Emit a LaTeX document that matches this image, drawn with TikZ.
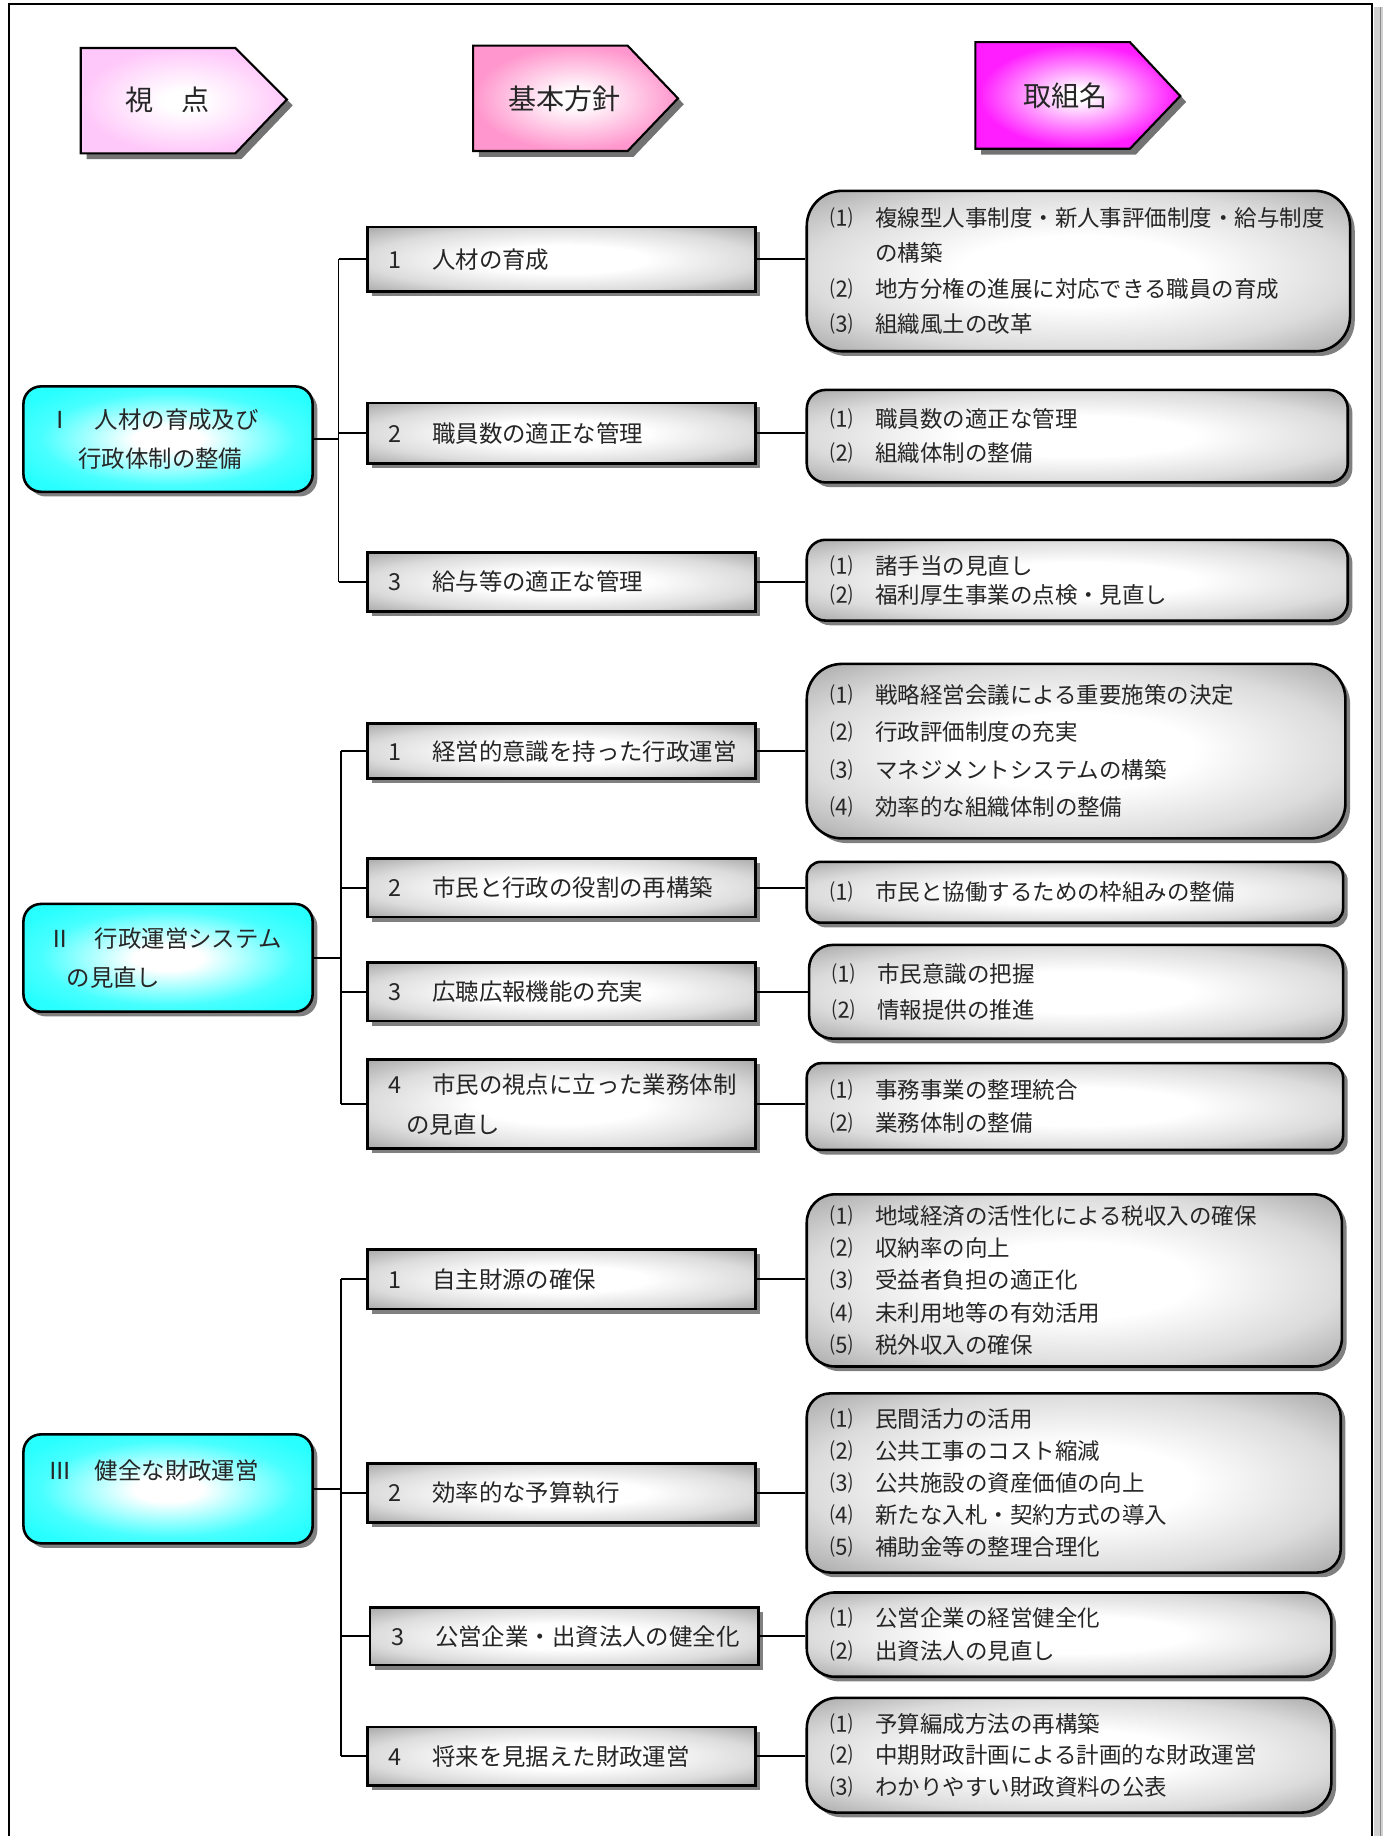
\documentclass[tikz,border=0pt]{standalone}
\usepackage{fontspec}
\newfontfamily\jpfont{Noto Sans CJK JP}
\usetikzlibrary{shadows}

\definecolor{viewpink}{RGB}{255,200,250}
\definecolor{policypink}{RGB}{255,150,205}
\definecolor{namemag}{RGB}{255,30,255}
\definecolor{glowcyan}{RGB}{40,255,255}

\pgfdeclareradialshading{greyglow}{\pgfpoint{0bp}{0bp}}{color(0bp)=(white); color(11bp)=(white); color(25bp)=(black!14); color(35bp)=(black!33); color(50bp)=(black!33)}
\pgfdeclareradialshading{cyanglow}{\pgfpoint{0bp}{0bp}}{color(0bp)=(white); color(6bp)=(white); color(22bp)=(glowcyan!85); color(30bp)=(glowcyan); color(50bp)=(glowcyan)}
\pgfdeclareradialshading{viewglow}{\pgfpoint{0bp}{0bp}}{color(0bp)=(white); color(5bp)=(white); color(25bp)=(viewpink); color(50bp)=(viewpink)}
\pgfdeclareradialshading{policyglow}{\pgfpoint{0bp}{0bp}}{color(0bp)=(white); color(4bp)=(white); color(25bp)=(policypink); color(50bp)=(policypink)}
\pgfdeclareradialshading{nameglow}{\pgfpoint{0bp}{0bp}}{color(0bp)=(white); color(3bp)=(white); color(24bp)=(namemag); color(50bp)=(namemag)}

\begin{document}
\begin{tikzpicture}[x=0.5pt, y=-0.5pt,
    link/.style={line width=0.8pt},
    boxshadow/.style={drop shadow={shadow xshift=2pt, shadow yshift=-2pt, fill=black!50, opacity=1}},
    hdr/.style={draw, line width=0.9pt, shade, drop shadow={shadow xshift=2.5pt, shadow yshift=-2.5pt, fill=black!55, opacity=1}},
    htext/.style={font=\jpfont\fontsize{12}{14}\selectfont, text=black!85},
    sight/.style={draw, line width=1.1pt, shade, shading=cyanglow, rounded corners=7.5pt, boxshadow,
        minimum width=123.5pt, text width=102.5pt, inner xsep=10.5pt, align=left,
        font=\jpfont\fontsize{10}{16.5}\selectfont, text=black!85},
    policy/.style={draw, line width=1.1pt, shade, shading=greyglow, boxshadow,
        minimum width=165.5pt, text width=147.5pt, inner xsep=9pt, align=left,
        font=\jpfont\fontsize{10}{17}\selectfont, text=black!85},
    action/.style={draw, line width=1.1pt, shade, shading=greyglow, boxshadow,
        inner xsep=10pt, align=left, font=\jpfont\fontsize{9.6}{#1}\selectfont, text=black!85},
]
\useasboundingbox (0,0) rectangle (1181,1568);

% page frame
\fill[black!18] (1173,6) rectangle (1181,1570);
\draw[black!45, line width=0.3pt] (1179,6) -- (1179,1570);
\draw[line width=0.9pt] (7.5,1570) -- (7.5,3.5) -- (1172,3.5) -- (1172,1570);

% column headers
\path[hdr, shading=viewglow] (69,41) -- (201,41) -- (245,85) -- (201,131) -- (69,131) -- cycle;
\path[hdr, shading=policyglow] (404,39) -- (536,39) -- (579,84) -- (536,129) -- (404,129) -- cycle;
\path[hdr, shading=nameglow] (833,36) -- (965,36) -- (1008,82) -- (965,127) -- (833,127) -- cycle;
\node[htext] (hview) at (143,85) {視　点};
\node[htext] (hpolicy) at (482,84) {基本方針};
\node[htext] (hname) at (910,82) {取組名};

% viewpoints
\node[sight, minimum height=45pt] (L1) at (143.5,375) {Ⅰ　人材の育成及び\\\hspace*{13pt}行政体制の整備};
\node[sight, minimum height=46pt] (L2) at (143.5,818) {Ⅱ　行政運営システム\\\hspace*{8pt}の見直し};
\node[sight, minimum height=46.5pt] (L3) at (143.5,1271.5) {Ⅲ　健全な財政運営\\\mbox{}};

% basic policies
\node[policy, minimum height=27.5pt] (M11) at (479.5,221.5) {1\kern3pt　人材の育成};
\node[policy, minimum height=26pt] (M12) at (479.5,370) {2\kern3pt　職員数の適正な管理};
\node[policy, minimum height=25pt] (M13) at (479.5,497) {3\kern3pt　給与等の適正な管理};
\node[policy, minimum height=23.5pt] (M21) at (479.5,641.5) {1\kern3pt　経営的意識を持った行政運営};
\node[policy, minimum height=25pt] (M22) at (479.5,758) {2\kern3pt　市民と行政の役割の再構築};
\node[policy, minimum height=25pt] (M23) at (479.5,847) {3\kern3pt　広聴広報機能の充実};
\node[policy, minimum height=38pt] (M24) at (479.5,943) {4\kern3pt　市民の視点に立った業務体制\\\hspace*{7.5pt}の見直し};
\node[policy, minimum height=25.5pt] (M31) at (479.5,1092.5) {1\kern3pt　自主財源の確保};
\node[policy, minimum height=25pt] (M32) at (479.5,1275) {2\kern3pt　効率的な予算執行};
\node[policy, minimum height=24.5pt, minimum width=166pt] (M33) at (482,1397.5) {3\kern3pt　公営企業・出資法人の健全化};
\node[policy, minimum height=25pt] (M34) at (479.5,1500) {4\kern3pt　将来を見据えた財政運営};

% actions
\node[action=15, text width=212pt, minimum height=68.5pt, rounded corners=15pt] (R11) at (921,231.5)
    {⑴　複線型人事制度・新人事評価制度・給与制度\\　　の構築\\⑵　地方分権の進展に対応できる職員の育成\\⑶　組織風土の改革};
\node[action=14.5, text width=211pt, minimum height=39.5pt, rounded corners=8pt] (R12) at (920,372.5)
    {⑴　職員数の適正な管理\\⑵　組織体制の整備};
\node[action=12.5, text width=211pt, minimum height=34.5pt, rounded corners=8pt] (R13) at (920,495.5)
    {⑴　諸手当の見直し\\⑵　福利厚生事業の点検・見直し};
\node[action=16, text width=210pt, minimum height=74.5pt, rounded corners=15pt] (R21) at (919,641.5)
    {⑴　戦略経営会議による重要施策の決定\\⑵　行政評価制度の充実\\⑶　マネジメントシステムの構築\\⑷　効率的な組織体制の整備};
\node[action=15, text width=209pt, minimum height=26pt, rounded corners=6pt] (R22) at (918,762)
    {⑴　市民と協働するための枠組みの整備};
\node[action=15.5, text width=208pt, minimum height=40pt, rounded corners=10pt] (R23) at (919,847)
    {⑴　市民意識の把握\\⑵　情報提供の推進};
\node[action=14, text width=209pt, minimum height=37pt, rounded corners=6pt] (R24) at (918,945)
    {⑴　事務事業の整理統合\\⑵　業務体制の整備};
\node[action=13.7, text width=208.5pt, minimum height=73.5pt, rounded corners=12pt] (R31) at (917.5,1093.5)
    {⑴　地域経済の活性化による税収入の確保\\⑵　収納率の向上\\⑶　受益者負担の適正化\\⑷　未利用地等の有効活用\\⑸　税外収入の確保};
\node[action=13.75, text width=208pt, minimum height=76.5pt, rounded corners=10pt] (R32) at (917,1266.5)
    {⑴　民間活力の活用\\⑵　公共工事のコスト縮減\\⑶　公共施設の資産価値の向上\\⑷　新たな入札・契約方式の導入\\⑸　補助金等の整理合理化};
\node[action=14, text width=204pt, minimum height=36pt, rounded corners=12pt] (R33) at (913,1396)
    {⑴　公営企業の経営健全化\\⑵　出資法人の見直し};
\node[action=13.5, text width=204pt, minimum height=49pt, rounded corners=13pt] (R34) at (913,1499)
    {⑴　予算編成方法の再構築\\⑵　中期財政計画による計画的な財政運営\\⑶　わかりやすい財政資料の公表};

% viewpoint -> policies
\draw[link] (L1.east) -- ++(21,0) coordinate (bus1);
\draw[link] (bus1 |- M11.west) -- (bus1 |- M13.west);
\foreach \m in {M11,M12,M13}
    \draw[link] (bus1 |- \m.west) -- (\m.west);

\draw[link] (L2.east) -- ++(23,0) coordinate (bus2);
\draw[link] (bus2 |- M21.west) -- (bus2 |- M24.west);
\foreach \m in {M21,M22,M23,M24}
    \draw[link] (bus2 |- \m.west) -- (\m.west);

\draw[link] (L3.east) -- ++(23,0) coordinate (bus3);
\draw[link] (bus3 |- M31.west) -- (bus3 |- M34.west);
\foreach \m in {M31,M32,M33,M34}
    \draw[link] (bus3 |- \m.west) -- (\m.west);

% policies -> actions
\foreach \m/\r in {M11/R11,M12/R12,M13/R13,M21/R21,M22/R22,M23/R23,M24/R24,M31/R31,M32/R32,M33/R33,M34/R34}
    \draw[link] (\m.east) -- (\m.east -| \r.west);

\end{tikzpicture}
\end{document}
